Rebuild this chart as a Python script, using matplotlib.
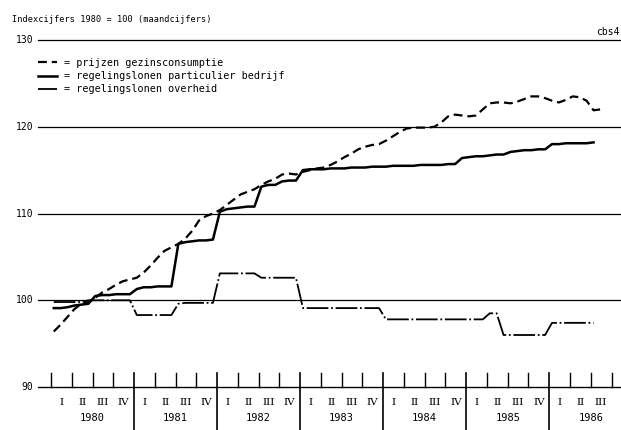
import matplotlib
matplotlib.use("Agg")
import matplotlib.pyplot as plt
import numpy as np

# maandcijfers, januari 1980 = maand 0
prijzen = [96.4, 97.2, 98.1, 99.0, 99.6, 99.8, 100.3, 100.9, 101.3, 101.8, 102.2, 102.4,
           102.6, 103.2, 104.0, 104.9, 105.7, 106.1, 106.5, 107.1, 108.0, 109.2, 109.7, 110.0,
           110.4, 111.0, 111.6, 112.2, 112.5, 112.8, 113.3, 113.7, 114.0, 114.5, 114.6, 114.5,
           114.8, 115.0, 115.2, 115.3, 115.6, 116.0, 116.5, 116.9, 117.4, 117.7, 117.9, 118.0,
           118.4, 118.9, 119.4, 119.8, 119.9, 119.9, 119.9, 120.0, 120.5, 121.2, 121.4, 121.3,
           121.2, 121.3, 122.0, 122.7, 122.8, 122.8, 122.7, 122.9, 123.2, 123.5, 123.5, 123.3,
           123.0, 122.8, 123.1, 123.5, 123.4, 123.0, 121.9, 122.0]

particulier = [99.1, 99.1, 99.2, 99.4, 99.5, 99.6, 100.5, 100.6, 100.6, 100.7, 100.7, 100.7,
               101.3, 101.5, 101.5, 101.6, 101.6, 101.6, 106.5, 106.7, 106.8, 106.9, 106.9, 107.0,
               110.2, 110.5, 110.6, 110.7, 110.8, 110.8, 113.1, 113.3, 113.3, 113.7, 113.8, 113.8,
               115.0, 115.1, 115.1, 115.1, 115.2, 115.2, 115.2, 115.3, 115.3, 115.3, 115.4, 115.4,
               115.4, 115.5, 115.5, 115.5, 115.5, 115.6, 115.6, 115.6, 115.6, 115.7, 115.7, 116.4,
               116.5, 116.6, 116.6, 116.7, 116.8, 116.8, 117.1, 117.2, 117.3, 117.3, 117.4, 117.4,
               118.0, 118.0, 118.1, 118.1, 118.1, 118.1, 118.2]

overheid = [99.8, 99.8, 99.8, 99.8, 99.8, 100.0, 100.0, 100.0, 100.0, 100.0, 100.0, 100.0,
            98.3, 98.3, 98.3, 98.3, 98.3, 98.3, 99.6, 99.7, 99.7, 99.7, 99.7, 99.7,
            103.1, 103.1, 103.1, 103.1, 103.1, 103.1, 102.6, 102.6, 102.6, 102.6, 102.6, 102.6,
            99.1, 99.1, 99.1, 99.1, 99.1, 99.1, 99.1, 99.1, 99.1, 99.1, 99.1, 99.1,
            97.8, 97.8, 97.8, 97.8, 97.8, 97.8, 97.8, 97.8, 97.8, 97.8, 97.8, 97.8,
            97.8, 97.8, 97.8, 98.5, 98.5, 96.0, 96.0, 96.0, 96.0, 96.0, 96.0, 96.0,
            97.4, 97.4, 97.4, 97.4, 97.4, 97.4, 97.4]

jaren = ["1980", "1981", "1982", "1983", "1984", "1985", "1986"]
kwartalen = ["I", "II", "III", "IV"]
kwartalen_1986 = ["I", "II", "III"]
yticks = [90, 100, 110, 120, 130]

mono = "DejaVu Sans Mono"

fig = plt.figure(figsize=(6.21, 4.30), dpi=100)
ax = fig.add_axes([0, 0, 1, 1])
ax.set_xlim(-7.37, 82.37)
ax.set_ylim(85.05, 134.61)
ax.axis("off")

# rasterlijnen
for y in yticks:
    ax.plot([-1.9, 82.37], [y, y], color="black", lw=0.9 if y > 90 else 1.0)
    ax.text(-2.6, y, str(y), ha="right", va="center", fontsize=7, family=mono)

# lijnen
l1, = ax.plot(np.arange(len(prijzen)) + 0.4, prijzen, color="black", lw=1.6,
              linestyle=(0, (4, 2.2)))
l2, = ax.plot(np.arange(len(particulier)) + 0.4, particulier, color="black", lw=1.8)
l3, = ax.plot(np.arange(len(overheid)) + 0.4, overheid, color="black", lw=1.3,
              linestyle=(0, (12, 1.5, 1, 1.5)))

# as met kwartalen en jaren
for k, jaar in enumerate(jaren):
    start = 12 * k
    for q in range(4):
        m = start + 3 * q
        if q == 0 and k > 0:
            ax.plot([m, m], [85.05, 91.6], color="black", lw=1.2)
        else:
            ax.plot([m, m], [90, 91.6], color="black", lw=1.0)
    labels = kwartalen_1986 if jaar == "1986" else kwartalen
    for q, lab in enumerate(labels):
        ax.text(start + 3 * q + 1.5, 88.27, lab, ha="center", va="center",
                fontsize=7.5, family="DejaVu Serif")
    ax.text(start + 6, 86.43, jaar, ha="center", va="center", fontsize=7.5, family=mono)

ax.text(-5.6, 132.4, "Indexcijfers 1980 = 100 (maandcijfers)", ha="left", va="center",
        fontsize=6.2, family=mono)
ax.text(82.2, 130.3, "cbs4", ha="right", va="bottom", fontsize=7, family=mono)

fig.legend([l1, l2, l3],
           ["= prijzen gezinsconsumptie", "= regelingslonen particulier bedrijf",
            "= regelingslonen overheid"],
           loc="upper left", bbox_to_anchor=(38 / 621, 1 - 58 / 430),
           frameon=False, borderpad=0, borderaxespad=0, handlelength=1.9,
           handletextpad=0.7, labelspacing=0.32, prop={"family": mono, "size": 7.3})

fig.savefig("out.png", dpi=100)
